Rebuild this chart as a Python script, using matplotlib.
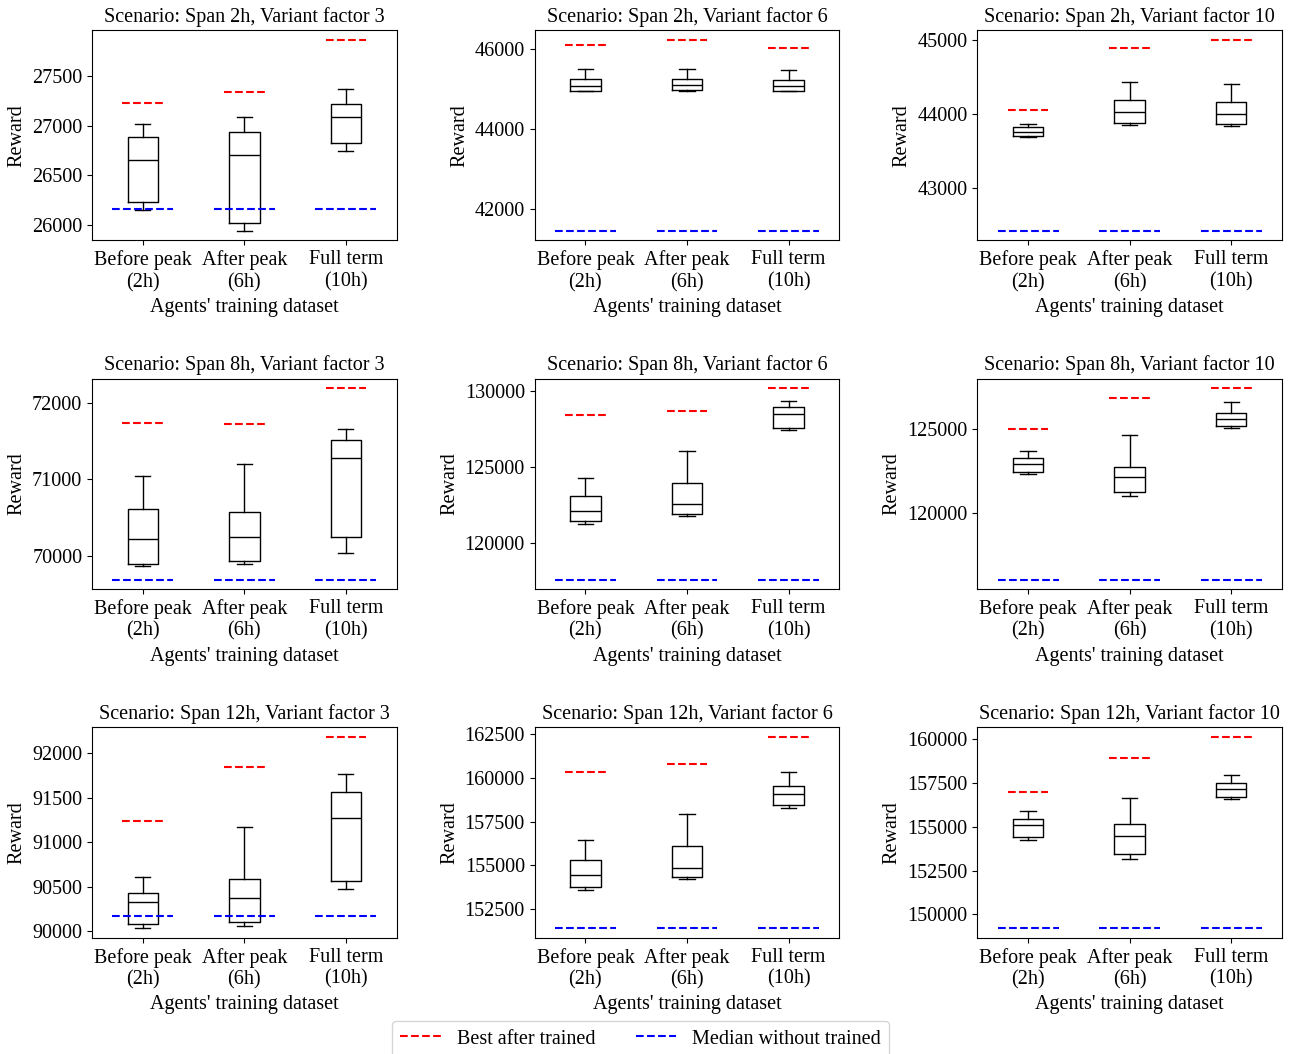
import matplotlib
matplotlib.use('Agg')
import matplotlib.pyplot as plt
from matplotlib.lines import Line2D

plt.rcParams['font.family'] = ['Liberation Serif', 'DejaVu Serif']
plt.rcParams['font.size'] = 14.5

categories = ['Before peak\n(2h)', 'After peak\n(6h)', 'Full term\n(10h)']
spans = ['2h', '8h', '12h']
factors = [3, 6, 10]

# box stats, one row per scenario (span-major), one value per training dataset
whis_low = [
    [26157, 25944, 26745],
    [44944, 44960, 44944],
    [43684, 43847, 43838],
    [69870, 69900, 70043],
    [121206, 121776, 127412],
    [122341, 121012, 125099],
    [90034, 90060, 90475],
    [153588, 154218, 158263],
    [154260, 153159, 156588],
]
q1 = [
    [26234, 26027, 26829],
    [44960, 44977, 44960],
    [43702, 43874, 43865],
    [69892, 69935, 70243],
    [121403, 121908, 127566],
    [122441, 121230, 125198],
    [90079, 90101, 90568],
    [153722, 154332, 158454],
    [154431, 153425, 156702],
]
median = [
    [26658, 26702, 27082],
    [45077, 45102, 45085],
    [43756, 44032, 44005],
    [70217, 70252, 71284],
    [122061, 122522, 128487],
    [122957, 122143, 125635],
    [90325, 90374, 91275],
    [154409, 154847, 159065],
    [155095, 154469, 157177],
]
q3 = [
    [26886, 26939, 27216],
    [45243, 45260, 45235],
    [43819, 44190, 44167],
    [70618, 70579, 71510],
    [123070, 123904, 128947],
    [123294, 122758, 125972],
    [90433, 90583, 91559],
    [155305, 156126, 159542],
    [155456, 155133, 157519],
]
whis_high = [
    [27019, 27082, 27366],
    [45493, 45501, 45468],
    [43860, 44433, 44402],
    [71048, 71199, 71653],
    [124255, 126053, 129320],
    [123710, 124643, 126647],
    [90612, 91168, 91761],
    [156450, 157958, 160343],
    [155892, 156665, 157974],
]
best_trained = [
    [27226, 27340, 27861],
    [46100, 46233, 46033],
    [44054, 44887, 45005],
    [71740, 71727, 72187],
    [128421, 128662, 130175],
    [125020, 126885, 127440],
    [91236, 91843, 92179],
    [160324, 160801, 162347],
    [156969, 158937, 160114],
]
median_untrained = [26160, 41459, 42420, 69692, 117566, 116032, 90172, 151374, 149203]

yticks = [
    [26000, 26500, 27000, 27500],
    [42000, 44000, 46000],
    [43000, 44000, 45000],
    [70000, 71000, 72000],
    [120000, 125000, 130000],
    [120000, 125000],
    [90000, 90500, 91000, 91500, 92000],
    [152500, 155000, 157500, 160000, 162500],
    [150000, 152500, 155000, 157500, 160000],
]

fig, axes = plt.subplots(3, 3, figsize=(12.94, 10.54), dpi=100)
fig.subplots_adjust(left=0.0711, right=0.9907, top=0.9715, bottom=0.1101,
                    wspace=0.453, hspace=0.657)

positions = [1, 2, 3]
k = 0
for r, span in enumerate(spans):
    for c, vf in enumerate(factors):
        ax = axes[r, c]
        stats = []
        for j in range(3):
            stats.append(dict(label=categories[j], whislo=whis_low[k][j], q1=q1[k][j],
                              med=median[k][j], q3=q3[k][j], whishi=whis_high[k][j],
                              fliers=[]))
        ax.bxp(stats, positions=positions, widths=0.3, showfliers=False,
               boxprops=dict(color='black'), medianprops=dict(color='black'),
               whiskerprops=dict(color='black'), capprops=dict(color='black'))
        for j, p in enumerate(positions):
            ax.hlines(best_trained[k][j], p - 0.2, p + 0.2, colors='red',
                      linestyles='--', linewidth=1.5)
            ax.hlines(median_untrained[k], p - 0.3, p + 0.3, colors='blue',
                      linestyles='--', linewidth=1.5)
        ax.set_xlim(0.5, 3.5)
        ax.set_yticks(yticks[k])
        ax.ticklabel_format(axis='y', style='plain', useOffset=False)
        ax.set_title(f'Scenario: Span {span}, Variant factor {vf}', fontsize=14.5)
        ax.set_ylabel('Reward')
        ax.set_xlabel("Agents' training dataset")
        k += 1

handles = [Line2D([], [], color='red', linestyle='--', linewidth=1.5),
           Line2D([], [], color='blue', linestyle='--', linewidth=1.5)]
fig.legend(handles, ['Best after trained', 'Median without trained'],
           loc='lower center', bbox_to_anchor=(0.495, -0.012), ncol=2)

fig.savefig('out.png', dpi=100)
